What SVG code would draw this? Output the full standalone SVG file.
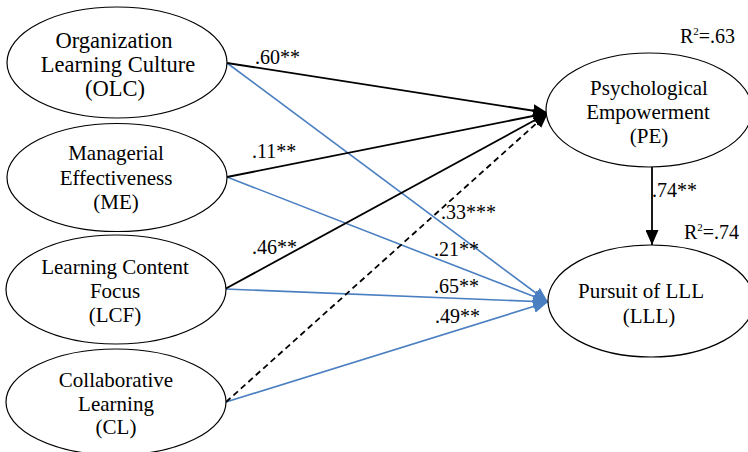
<svg xmlns="http://www.w3.org/2000/svg" width="748" height="452" viewBox="0 0 748 452">
<style>
  .node ellipse { fill: #ffffff; stroke: #000000; stroke-width: 1.2; }
  .node text { font-family: 'Liberation Serif', 'Times New Roman', Times, 'DejaVu Serif', serif; font-size: 21px; fill: #000; text-anchor: middle; }
  .lbl { font-family: 'Liberation Serif', 'Times New Roman', Times, 'DejaVu Serif', serif; font-size: 20px; fill: #000; }
  .blk { stroke: #000; stroke-width: 1.8; fill: none; }
  .blu { stroke: #4a7fc1; stroke-width: 1.6; fill: none; }
  .dash { stroke-dasharray: 6 4; }
</style>
<defs>
  <marker id="ahb" markerUnits="userSpaceOnUse" markerWidth="15" markerHeight="13" refX="15" refY="6.5" orient="auto">
    <path d="M0,0 L15,6.5 L0,13 Z" fill="#000"/>
  </marker>
  <marker id="ahu" markerUnits="userSpaceOnUse" markerWidth="15" markerHeight="13" refX="15" refY="6.5" orient="auto">
    <path d="M0,0 L15,6.5 L0,13 Z" fill="#4a7fc1"/>
  </marker>
</defs>
<rect width="748" height="452" fill="#ffffff"/>

<g id="connectors">
  <line class="blu" x1="227" y1="63" x2="548" y2="302" marker-end="url(#ahu)"/>
  <line class="blu" x1="227" y1="177" x2="548" y2="302" marker-end="url(#ahu)"/>
  <line class="blu" x1="225" y1="289" x2="548" y2="302" marker-end="url(#ahu)"/>
  <line class="blu" x1="226" y1="402" x2="548" y2="302" marker-end="url(#ahu)"/>
  <line class="blk" x1="227" y1="63" x2="548" y2="113" marker-end="url(#ahb)"/>
  <line class="blk" x1="227" y1="177" x2="548" y2="113" marker-end="url(#ahb)"/>
  <line class="blk" x1="225" y1="289" x2="548" y2="113" marker-end="url(#ahb)"/>
  <line class="blk dash" x1="226" y1="402" x2="548" y2="113" marker-end="url(#ahb)"/>
  <line class="blk" x1="652" y1="167" x2="652" y2="245" marker-end="url(#ahb)"/>
  <text class="lbl" x="255" y="64">.60**</text>
  <text class="lbl" x="252" y="158">.11**</text>
  <text class="lbl" x="252" y="254">.46**</text>
  <text class="lbl" x="441" y="219">.33***</text>
  <text class="lbl" x="434" y="256">.21**</text>
  <text class="lbl" x="434" y="293">.65**</text>
  <text class="lbl" x="435" y="323">.49**</text>
  <text class="lbl" x="652" y="197">.74**</text>
  <text class="lbl" x="680" y="43">R<tspan font-size="11" dy="-8">2</tspan><tspan dy="8">=.63</tspan></text>
  <text class="lbl" x="684" y="239">R<tspan font-size="11" dy="-8">2</tspan><tspan dy="8">=.74</tspan></text>
</g>

<g id="OLC" class="node">
  <ellipse cx="117" cy="62.5" rx="110" ry="55.5"/>
  <text x="114" y="48" style="font-size:22.5px">Organization</text>
  <text x="118" y="72" style="font-size:22.5px">Learning Culture</text>
  <text x="115" y="96" style="font-size:22.5px">(OLC)</text>
</g>
<g id="ME" class="node">
  <ellipse cx="117" cy="177.5" rx="110" ry="54"/>
  <text x="116" y="160">Managerial</text>
  <text x="116" y="185">Effectiveness</text>
  <text x="116" y="209">(ME)</text>
</g>
<g id="LCF" class="node">
  <ellipse cx="116" cy="289.5" rx="110" ry="54.5"/>
  <text x="115" y="274">Learning Content</text>
  <text x="115" y="298">Focus</text>
  <text x="115" y="322">(LCF)</text>
</g>
<g id="CL" class="node">
  <ellipse cx="116" cy="402" rx="110" ry="53"/>
  <text x="116" y="387">Collaborative</text>
  <text x="116" y="411">Learning</text>
  <text x="116" y="434">(CL)</text>
</g>
<g id="PE" class="node">
  <ellipse cx="649" cy="110" rx="103" ry="57"/>
  <text x="649" y="95">Psychological</text>
  <text x="648" y="119">Empowerment</text>
  <text x="649" y="143">(PE)</text>
</g>
<g id="LLL" class="node">
  <ellipse cx="651" cy="301" rx="103" ry="56"/>
  <text x="641" y="298">Pursuit of LLL</text>
  <text x="649" y="323">(LLL)</text>
</g>
</svg>
